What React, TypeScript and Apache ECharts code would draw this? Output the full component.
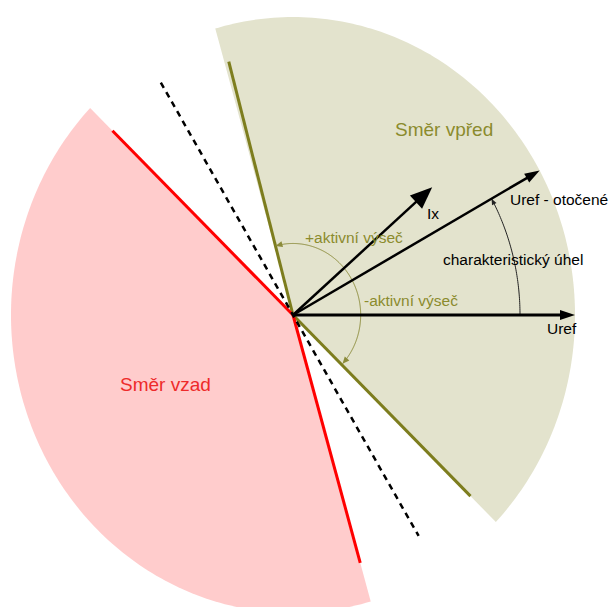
import React, { useEffect, useRef } from "react";
import * as echarts from "echarts";

// ---- data (angles in degrees, lengths in units of the sector radius) ----
const sectorNames = ["Směr vpřed", "Směr vzad"];
const sectorFrom = [-44, 136];
const sectorTo = [106, 286];
const sectorRadius = [1.0, 1.0];

const boundaryAngles = [105, -44, 136, -74];
const boundaryLengths = [0.88, 0.875, 0.89, 0.865];

const neutralAngle = 121;
const neutralLengths = [0.91, 0.865];

const vectorNames = ["Uref", "Uref - otočené", "Ix"];
const vectorAngles = [0, 29, 41];
const vectorLengths = [1.0, 1.0, 0.654];

const arcNames = ["charakteristický úhel", "aktivní výseč"];
const arcFrom = [0, -43];
const arcTo = [29, 105];
const arcRadius = [0.805, 0.24];

// ---- layout / styles ----
const W = 609;
const H = 607;
const OX = 293;
const OY = 315;
const SX = 282;
const SY = 298;
const FONT = '"Liberation Sans", Arial, sans-serif';
const sectorFill = ["#e3e3cd", "#ffcccc"];
const boundaryColor = ["#7d7d1e", "#7d7d1e", "#ff0000", "#ff0000"];
const vectorStyle = [
  { width: 3, head: 15, half: 5 },
  { width: 2.5, head: 15, half: 5 },
  { width: 2.5, head: 22, half: 9 },
];
const arcStyle = [
  { color: "#222222", width: 1, arrowEnd: true, arrowStart: false, head: 6, half: 2.5 },
  { color: "#8b8b3a", width: 1, arrowEnd: true, arrowStart: true, head: 7, half: 3 },
];

const rad = (d: number) => (d * Math.PI) / 180;

function arrowHead(tip: number[], ux: number, uy: number, len: number, half: number) {
  const bx = tip[0] - ux * len;
  const by = tip[1] - uy * len;
  const nx = -uy;
  const ny = ux;
  return [tip, [bx + nx * half, by + ny * half], [bx - nx * half, by - ny * half]];
}

export default function App() {
  const ref = useRef<HTMLDivElement>(null);
  useEffect(() => {
    if (!ref.current) return;
    const chart = echarts.init(ref.current, undefined, { renderer: "svg" });

    const label = (text: string, x: number, y: number, color: string, size: number) => ({
      type: "text",
      x,
      y,
      z: 100,
      zlevel: 1,
      style: { text, fill: color, font: `${size}px ${FONT}`, verticalAlign: "middle" },
    });

    const option: any = {
      animation: false,
      grid: { left: 0, right: 0, top: 0, bottom: 0 },
      xAxis: { type: "value", min: -OX / SX, max: (W - OX) / SX, show: false },
      yAxis: { type: "value", min: -(H - OY) / SY, max: OY / SY, show: false },
      series: [
        {
          type: "custom",
          name: "sectors",
          silent: true,
          data: sectorFrom.map((f, i) => [f, sectorTo[i], sectorRadius[i]]),
          renderItem: (params: any, api: any) => {
            const a1 = api.value(0);
            const a2 = api.value(1);
            const r = api.value(2);
            const pts = [api.coord([0, 0])];
            const n = Math.ceil(Math.abs(a2 - a1));
            for (let k = 0; k <= n; k++) {
              const a = rad(a1 + ((a2 - a1) * k) / n);
              pts.push(api.coord([r * Math.cos(a), r * Math.sin(a)]));
            }
            return {
              type: "polygon",
              shape: { points: pts },
              style: { fill: sectorFill[params.dataIndex], stroke: null },
            };
          },
        },
        {
          type: "custom",
          name: "boundaries",
          silent: true,
          data: boundaryAngles.map((a, i) => [a, boundaryLengths[i]]),
          renderItem: (params: any, api: any) => {
            const a = rad(api.value(0));
            const l = api.value(1);
            const O = api.coord([0, 0]);
            const P = api.coord([l * Math.cos(a), l * Math.sin(a)]);
            return {
              type: "line",
              shape: { x1: O[0], y1: O[1], x2: P[0], y2: P[1] },
              style: { stroke: boundaryColor[params.dataIndex], lineWidth: 3 },
            };
          },
        },
        {
          type: "custom",
          name: "neutral",
          silent: true,
          data: [[neutralAngle, neutralLengths[0], neutralLengths[1]]],
          renderItem: (params: any, api: any) => {
            const a = rad(api.value(0));
            const l1 = api.value(1);
            const l2 = api.value(2);
            const P1 = api.coord([l1 * Math.cos(a), l1 * Math.sin(a)]);
            const P2 = api.coord([-l2 * Math.cos(a), -l2 * Math.sin(a)]);
            return {
              type: "line",
              shape: { x1: P1[0], y1: P1[1], x2: P2[0], y2: P2[1] },
              style: { stroke: "#000000", lineWidth: 2.5, lineDash: [6, 5] },
            };
          },
        },
        {
          type: "custom",
          name: "arcs",
          silent: true,
          data: arcFrom.map((f, i) => [f, arcTo[i], arcRadius[i]]),
          renderItem: (params: any, api: any) => {
            const s = arcStyle[params.dataIndex];
            const a1 = api.value(0);
            const a2 = api.value(1);
            const r = api.value(2);
            const pts: number[][] = [];
            const n = Math.ceil(Math.abs(a2 - a1) * 2);
            for (let k = 0; k <= n; k++) {
              const a = rad(a1 + ((a2 - a1) * k) / n);
              pts.push(api.coord([r * Math.cos(a), r * Math.sin(a)]));
            }
            const children: any[] = [
              {
                type: "polyline",
                shape: { points: pts },
                style: { stroke: s.color, lineWidth: s.width, fill: null },
              },
            ];
            const addHead = (tip: number[], prev: number[]) => {
              const dx = tip[0] - prev[0];
              const dy = tip[1] - prev[1];
              const d = Math.hypot(dx, dy) || 1;
              children.push({
                type: "polygon",
                shape: { points: arrowHead(tip, dx / d, dy / d, s.head, s.half) },
                style: { fill: s.color },
              });
            };
            if (s.arrowEnd) addHead(pts[pts.length - 1], pts[pts.length - 4]);
            if (s.arrowStart) addHead(pts[0], pts[3]);
            return { type: "group", children };
          },
        },
        {
          type: "custom",
          name: "vectors",
          silent: true,
          data: vectorAngles.map((a, i) => [a, vectorLengths[i]]),
          renderItem: (params: any, api: any) => {
            const s = vectorStyle[params.dataIndex];
            const a = rad(api.value(0));
            const l = api.value(1);
            const O = api.coord([0, 0]);
            const P = api.coord([l * Math.cos(a), l * Math.sin(a)]);
            const dx = P[0] - O[0];
            const dy = P[1] - O[1];
            const d = Math.hypot(dx, dy);
            const ux = dx / d;
            const uy = dy / d;
            const endX = P[0] - ux * (s.head - 2);
            const endY = P[1] - uy * (s.head - 2);
            return {
              type: "group",
              children: [
                {
                  type: "line",
                  shape: { x1: O[0], y1: O[1], x2: endX, y2: endY },
                  style: { stroke: "#000000", lineWidth: s.width },
                },
                {
                  type: "polygon",
                  shape: { points: arrowHead(P, ux, uy, s.head, s.half) },
                  style: { fill: "#000000" },
                },
              ],
            };
          },
        },
      ],
      graphic: [
        label(sectorNames[0], 395, 129, "#8b8b2d", 19),
        label(sectorNames[1], 120, 384, "#ee2a2a", 19),
        label(vectorNames[2], 427, 213, "#000000", 15.5),
        label(vectorNames[1], 510, 199, "#000000", 15.5),
        label(vectorNames[0], 547, 328, "#000000", 15.5),
        label(arcNames[0], 443, 259, "#000000", 15.5),
        label("+" + arcNames[1], 305, 237, "#8b8b2d", 15.5),
        label("-" + arcNames[1], 364, 300, "#8b8b2d", 15.5),
      ],
    };

    chart.setOption(option);
    return () => chart.dispose();
  }, []);

  return (
    <div
      ref={ref}
      style={{ position: "fixed", left: 0, top: 0, width: W, height: H, background: "#ffffff" }}
    />
  );
}
